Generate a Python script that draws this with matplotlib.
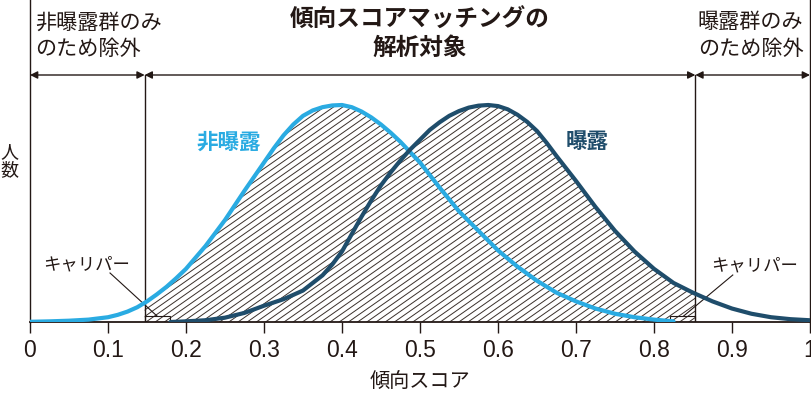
import numpy as np
import matplotlib
matplotlib.use('Agg')
import matplotlib.pyplot as plt
from matplotlib.patches import Polygon, Rectangle

plt.rcParams['font.family'] = ['Noto Sans CJK JP', 'DejaVu Sans']

# propensity score densities (peak = 1)
unexp_x = [0.0, 0.025, 0.05, 0.075, 0.1, 0.1125, 0.125, 0.1375, 0.15, 0.1625, 0.175,
           0.1875, 0.2, 0.225, 0.25, 0.275, 0.3, 0.3125, 0.325, 0.3375, 0.35, 0.3625,
           0.375, 0.3875, 0.4, 0.4125, 0.425, 0.4375, 0.45, 0.4625, 0.475, 0.5, 0.525,
           0.55, 0.575, 0.6, 0.625, 0.65, 0.675, 0.7, 0.725, 0.75, 0.775, 0.8, 0.825]
unexp_y = [0.001, 0.003, 0.006, 0.011, 0.022, 0.033, 0.048, 0.068, 0.095, 0.127, 0.162,
           0.202, 0.245, 0.35, 0.47, 0.605, 0.735, 0.8, 0.86, 0.91, 0.95, 0.975,
           0.99, 0.998, 1.0, 0.99, 0.97, 0.943, 0.91, 0.872, 0.83, 0.735, 0.62,
           0.51, 0.42, 0.33, 0.255, 0.19, 0.135, 0.095, 0.062, 0.038, 0.022, 0.011, 0.003]

exp_x = [0.18, 0.2, 0.225, 0.25, 0.275, 0.3, 0.325, 0.35, 0.375, 0.3875, 0.4, 0.4125,
         0.425, 0.4375, 0.45, 0.4625, 0.475, 0.4875, 0.5, 0.5125, 0.525, 0.5375, 0.55,
         0.5625, 0.575, 0.5875, 0.6, 0.6125, 0.625, 0.6375, 0.65, 0.6625, 0.675, 0.7,
         0.725, 0.75, 0.775, 0.8, 0.825, 0.85, 0.875, 0.9, 0.925, 0.95, 0.975, 1.0]
exp_y = [0.0, 0.003, 0.008, 0.02, 0.042, 0.075, 0.105, 0.145, 0.215, 0.265, 0.325, 0.405,
         0.485, 0.56, 0.63, 0.69, 0.745, 0.795, 0.84, 0.885, 0.92, 0.95, 0.972,
         0.988, 0.997, 1.0, 0.995, 0.98, 0.955, 0.922, 0.88, 0.825, 0.765, 0.65,
         0.53, 0.42, 0.325, 0.245, 0.18, 0.135, 0.095, 0.062, 0.038, 0.022, 0.013, 0.008]

lo_cut = 0.147   # 非曝露群のみの範囲の境界
hi_cut = 0.853   # 曝露群のみの範囲の境界
caliper = 0.033

tick_vals = [0, 0.1, 0.2, 0.3, 0.4, 0.5, 0.6, 0.7, 0.8, 0.9, 1.0]
tick_labels = ['0', '0.1', '0.2', '0.3', '0.4', '0.5', '0.6', '0.7', '0.8', '0.9', '1']

ink = '#231815'
c_unexp = '#2aabe2'
c_exp = '#1f4d6b'

fig = plt.figure(figsize=(8.12, 3.94), dpi=100)
ax = fig.add_axes([30 / 812, 72 / 394, 780 / 812, 322 / 394])
ax.set_xlim(0, 1)
ax.set_ylim(0, 322 / 217)

# hatched region: union under both curves between the cut-offs
grid = sorted(set(x for x in unexp_x + exp_x if lo_cut < x < hi_cut))
grid = [lo_cut] + grid + [hi_cut]
top = [max(np.interp(g, unexp_x, unexp_y, left=0, right=0),
           np.interp(g, exp_x, exp_y, left=0, right=0)) for g in grid]
verts = [(lo_cut, 0)] + list(zip(grid, top)) + [(hi_cut, 0)]
poly = Polygon(verts, closed=True, facecolor='none', edgecolor='none')
ax.add_patch(poly)
slope = 0.7 * 780 / 217
for x0 in np.arange(-0.5, 0.9, 9.2 / 780):
    ln, = ax.plot([x0, x0 + 0.5], [0, 0.5 * slope], color='#3a302b', lw=0.7, zorder=2)
    ln.set_clip_path(poly)

# curves
ax.plot(unexp_x, unexp_y, color=c_unexp, lw=3.0, solid_capstyle='round',
        solid_joinstyle='round', zorder=4)
ax.plot(exp_x, exp_y, color=c_exp, lw=3.0, solid_capstyle='round',
        solid_joinstyle='round', zorder=4)

# caliper boxes
ax.add_patch(Rectangle((lo_cut, 0), caliper, 0.028, fill=False, ec=ink, lw=0.8, zorder=3))
ax.add_patch(Rectangle((hi_cut - caliper, 0), caliper, 0.028, fill=False, ec=ink, lw=0.8, zorder=3))

# cut-off lines and arrows
y_arr = (322 - 75) / 217
for xc in [lo_cut, hi_cut]:
    ax.plot([xc, xc], [0, y_arr], color=ink, lw=1.0, zorder=3)
for a, b in [(0, lo_cut), (lo_cut, hi_cut), (hi_cut, 1)]:
    ax.annotate('', xy=(a, y_arr), xytext=(b, y_arr),
                arrowprops=dict(arrowstyle='<|-|>', color=ink, lw=1.0,
                                mutation_scale=11, shrinkA=0, shrinkB=0))

# texts
def py(p):
    return (322 - p) / 217

ax.text(0.0064, py(22.5), '非曝露群のみ', fontsize=15.2, color=ink, ha='left', va='center')
ax.text(0.0064, py(49), 'のため除外', fontsize=15.2, color=ink, ha='left', va='center')
ax.text(0.856, py(22.5), '曝露群のみ', fontsize=15.2, color=ink, ha='left', va='center')
ax.text(0.856, py(49), 'のため除外', fontsize=15.2, color=ink, ha='left', va='center')
ax.text(0.5, py(20), '傾向スコアマッチングの', fontsize=17, fontweight='bold', color=ink,
        ha='center', va='center')
ax.text(0.5, py(48), '解析対象', fontsize=17, fontweight='bold', color=ink,
        ha='center', va='center')

ax.text(0.255, py(142), '非曝露', fontsize=15.5, fontweight='bold', color=c_unexp,
        ha='center', va='center')
ax.text(0.714, py(142), '曝露', fontsize=15.5, fontweight='bold', color=c_exp,
        ha='center', va='center')

ax.text(0.0724, py(264.5), 'キャリパー', fontsize=12.5, color=ink, ha='center', va='center')
ax.text(0.929, py(265), 'キャリパー', fontsize=12.5, color=ink, ha='center', va='center')
ax.plot([0.1026, 0.1628], [py(273), py(316)], color=ink, lw=0.8, zorder=3)
ax.plot([0.901, 0.838], [py(275), py(316)], color=ink, lw=0.8, zorder=3)

ax.text(0.5, py(381), '傾向スコア', fontsize=14.5, color=ink, ha='center', va='center',
        clip_on=False)
fig.text(9.5 / 812, 1 - 152 / 394, '人', fontsize=13, color=ink, ha='center', va='center')
fig.text(9.5 / 812, 1 - 170 / 394, '数', fontsize=13, color=ink, ha='center', va='center')

# axes styling
ax.spines['top'].set_visible(False)
for s in ['left', 'right', 'bottom']:
    ax.spines[s].set_color(ink)
    ax.spines[s].set_linewidth(1.0)
ax.spines['bottom'].set_linewidth(1.3)
ax.set_yticks([])
ax.set_xticks(tick_vals)
ax.set_xticklabels(tick_labels, fontfamily='Liberation Sans', fontsize=16.5, color=ink)
ax.tick_params(axis='x', direction='out', length=8, width=1.0, color=ink, pad=4.5)

fig.savefig('out.png', dpi=100)
